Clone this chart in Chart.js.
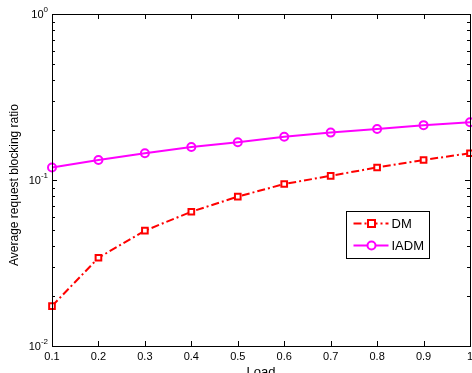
<!DOCTYPE html>
<html>
<head>
<meta charset="utf-8">
<script src="https://cdn.jsdelivr.net/npm/chart.js@4"></script>
<style>
  html, body { margin: 0; padding: 0; background: #fff; overflow: hidden; }
  #wrap { width: 476px; height: 373px; }
</style>
</head>
<body>
<div id="wrap"><canvas id="c" width="476" height="373"></canvas></div>
<script>
// Load values on the x axis
const loads = [0.1, 0.2, 0.3, 0.4, 0.5, 0.6, 0.7, 0.8, 0.9, 1.0];
const xTickLabels = ['0.1','0.2','0.3','0.4','0.5','0.6','0.7','0.8','0.9','1'];
// Average request blocking ratio
const dmValues   = [0.0174, 0.034, 0.0495, 0.0644, 0.0794, 0.0946, 0.106, 0.119, 0.132, 0.145];
const iadmValues = [0.119, 0.132, 0.145, 0.158, 0.169, 0.182, 0.193, 0.203, 0.214, 0.223];
const yDecades = [0.01, 0.1, 1];
const yDecadeExp = ['-2', '-1', '0'];

const FONT = '"Liberation Sans", Arial, Helvetica, sans-serif';
const RED = '#ff0000', MAGENTA = '#ff00ff';

const toPts = vals => loads.map((x, i) => ({ x, y: vals[i] }));

// Boîte MATLAB : cadre, graduations intérieures, libellés 10^n et légende dans le tracé
const matlabBox = { id: 'matlabBox', afterDraw(chart) {
  const { ctx, chartArea: a, scales: { x, y } } = chart;
  ctx.save();
  ctx.strokeStyle = '#000';
  ctx.lineWidth = 1;
  ctx.strokeRect(a.left + 0.5, a.top + 0.5, a.right - a.left, a.bottom - a.top);

  ctx.beginPath();
  loads.forEach(v => {
    const px = Math.round(x.getPixelForValue(v)) + 0.5;
    ctx.moveTo(px, a.bottom); ctx.lineTo(px, a.bottom - 5);
    ctx.moveTo(px, a.top); ctx.lineTo(px, a.top + 5);
  });
  [0.01, 0.1].forEach(d => {
    for (let k = 1; k <= 10; k++) {
      const py = Math.round(y.getPixelForValue(d * k)) + 0.5;
      const len = (k === 1 || k === 10) ? 5 : 3;
      ctx.moveTo(a.left, py); ctx.lineTo(a.left + len, py);
      ctx.moveTo(a.right, py); ctx.lineTo(a.right - len, py);
    }
  });
  ctx.stroke();

  ctx.fillStyle = '#000';
  ctx.font = '11px ' + FONT;
  ctx.textAlign = 'center'; ctx.textBaseline = 'top';
  loads.forEach((v, i) => ctx.fillText(xTickLabels[i], x.getPixelForValue(v), a.bottom + 5));

  yDecades.forEach((d, i) => {
    const py = y.getPixelForValue(d);
    ctx.font = '8px ' + FONT;
    ctx.textAlign = 'left'; ctx.textBaseline = 'alphabetic';
    const ew = ctx.measureText(yDecadeExp[i]).width;
    const ex = a.left - 4 - ew;
    ctx.fillText(yDecadeExp[i], ex, py - 2);
    ctx.font = '11px ' + FONT;
    ctx.textAlign = 'right';
    ctx.fillText('10', ex, py + 4);
  });

  ctx.font = '13px ' + FONT;
  ctx.textAlign = 'center'; ctx.textBaseline = 'top';
  ctx.fillText('Load', x.getPixelForValue(0.55), a.bottom + 20);
  ctx.font = '12px ' + FONT;
  ctx.translate(15, 185);
  ctx.rotate(-Math.PI / 2);
  ctx.textBaseline = 'middle';
  ctx.fillText('Average request blocking ratio', 0, 0);
  ctx.restore();

  // Legend
  ctx.save();
  const lx = 346.5, ly = 211.5, lw = 83, lh = 47;
  ctx.fillStyle = '#fff';
  ctx.fillRect(lx, ly, lw, lh);
  ctx.strokeStyle = '#000'; ctx.lineWidth = 1;
  ctx.strokeRect(lx, ly, lw, lh);
  const rows = [
    { label: 'DM', color: RED, dash: [8, 3, 2, 3], marker: 'rect' },
    { label: 'IADM', color: MAGENTA, dash: [], marker: 'circle' },
  ];
  rows.forEach((r, i) => {
    const cy = ly + 12 + i * 22;
    ctx.strokeStyle = r.color; ctx.lineWidth = 2;
    ctx.setLineDash(r.dash);
    ctx.beginPath(); ctx.moveTo(lx + 7, cy); ctx.lineTo(lx + 42, cy); ctx.stroke();
    ctx.setLineDash([]);
    ctx.fillStyle = '#fff';
    ctx.beginPath();
    if (r.marker === 'rect') ctx.rect(lx + 21.5, cy - 3.5, 7, 7);
    else ctx.arc(lx + 25, cy, 4, 0, Math.PI * 2);
    ctx.fill(); ctx.stroke();
    ctx.fillStyle = '#000';
    ctx.font = '13px ' + FONT;
    ctx.textAlign = 'left'; ctx.textBaseline = 'middle';
    ctx.fillText(r.label, lx + 45, cy + 1);
  });
  ctx.restore();
}};

new Chart(document.getElementById('c').getContext('2d'), {
  type: 'line',
  data: {
    datasets: [
      {
        label: 'DM', data: toPts(dmValues),
        borderColor: RED, borderWidth: 2, borderDash: [8, 3, 2, 3],
        pointStyle: 'rect', pointRadius: 4, pointBorderWidth: 2,
        pointBorderColor: RED, pointBackgroundColor: '#fff',
        tension: 0, clip: false,
      },
      {
        label: 'IADM', data: toPts(iadmValues),
        borderColor: MAGENTA, borderWidth: 2,
        pointStyle: 'circle', pointRadius: 4, pointBorderWidth: 2,
        pointBorderColor: MAGENTA, pointBackgroundColor: 'rgba(255,255,255,0)',
        tension: 0, clip: false,
      },
    ]
  },
  options: {
    responsive: false,
    animation: false,
    events: [],
    layout: { padding: { top: 14, right: 1, left: 0, bottom: 0 } },
    plugins: { legend: { display: false }, tooltip: { enabled: false } },
    scales: {
      x: {
        type: 'linear', min: 0.1, max: 1,
        grid: { display: false }, border: { display: false },
        ticks: { display: false },
        afterFit: s => { s.height = 27; },
      },
      y: {
        type: 'logarithmic', min: 0.01, max: 1,
        grid: { display: false }, border: { display: false },
        ticks: { display: false },
        afterFit: s => { s.width = 52; },
      }
    }
  },
  plugins: [matlabBox]
});
</script>
</body>
</html>
